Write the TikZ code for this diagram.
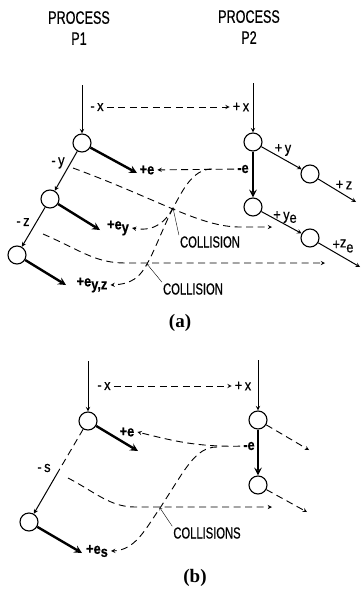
\documentclass[tikz,border=0pt]{standalone}
\usepackage{fontspec}
\setmainfont{Liberation Serif}
\newfontfamily\lettering[FakeStretch=0.7,FakeBold=0.6]{Liberation Sans}
\newfontfamily\tagfont[FakeStretch=0.85,FakeBold=0.5]{Liberation Sans}
\usetikzlibrary{arrows}
\begin{document}
\begin{tikzpicture}[x=1pt,y=-1pt]
\tikzstyle{state}=[draw,circle,minimum size=18pt,inner sep=0pt,line width=1.1pt]
\tikzstyle{msg}=[->,>=stealth,dash pattern=on 7pt off 4.5pt,line width=0.9pt]
\tikzstyle{flow}=[->,>=stealth,line width=1pt]
\tikzstyle{heavy}=[->,>=stealth,line width=2.4pt]
\tikzstyle{tag}=[inner sep=3pt,font=\tagfont\fontsize{15}{15}\selectfont]
\tikzstyle{head}=[align=center,font=\lettering\fontsize{18}{21}\selectfont]
\tikzstyle{note}=[inner sep=1pt,font=\lettering\fontsize{16}{16}\selectfont]
\tikzstyle{sub}=[font=\bfseries\fontsize{19}{19}\selectfont]

\useasboundingbox (0,0) rectangle (361,589);

% headings
\node[head] (h1) at (79,28) {PROCESS\\P1};
\node[head] (h2) at (249,27) {PROCESS\\P2};

% (a): states of P1 and P2
\foreach \n/\x/\y in {A1/82/143,A2/50/199,A3/17/255,B1/253/142,B2/253/207,B3/310/174,B4/310/238}
  \node[state] (\n) at (\x,\y) {};

\coordinate (top1) at (82,85);
\coordinate (top2) at (253,83);
\coordinate (outB3) at (356,202);
\coordinate (outB4) at (360,267);
\draw[flow] (top1) -- (A1);
\draw[flow] (top2) -- (B1);
\draw[flow] (A1) -- (A2);
\draw[flow] (A2) -- (A3);
\draw[flow] (B1) -- (B3);
\draw[flow] (B3) -- (outB3);
\draw[flow] (B2) -- (B4);
\draw[flow] (B4) -- (outB4);
\draw[heavy] (B1) -- (B2);

\coordinate (tA1) at (137,173);
\coordinate (tA2) at (100,230);
\coordinate (tA3) at (66,285);
\draw[heavy] (A1) -- (tA1);
\draw[heavy] (A2) -- (tA2);
\draw[heavy] (A3) -- (tA3);

\node[tag] (mx1) at (97,107) {-\,x};
\node[tag] (px1) at (241,107) {+\,x};
\node[tag] (my1) at (58,163) {-\,y};
\node[tag] (mz1) at (23,222) {-\,z};
\node[tag] (py1) at (283,150) {+\,y};
\node[tag] (pz1) at (344,185) {+\,z};
\node[tag] (pye) at (285,217) {+\,y\raisebox{-3pt}{e}};
\node[tag] (pze) at (343,246) {+\raisebox{2pt}{z}\raisebox{-3pt}{e}};
\node[tag] (e1) at (147,170) {\bfseries +e};
\node[tag] (me1) at (243,169) {\bfseries -e};
\node[tag] (ey) at (118,228) {\bfseries +e\raisebox{-3pt}{y}};
\node[tag] (eyz) at (92,285) {\bfseries +e\raisebox{-3pt}{y,z}};

\draw[msg] (mx1) -- (px1);
\draw[msg] (me1) -- (e1);

% the replies crossing the later messages
\coordinate (fork1) at (212,169);
\coordinate (X1) at (173,208);
\coordinate (X2) at (147,264);
\draw[msg] (fork1) .. controls (192,169) and (182,192) .. (X1)
  .. controls (166,221) and (155,232) .. (ey.east);
\draw[msg] (X1) .. controls (162,230) and (155,250) .. (X2)
  .. controls (140,277) and (132,284) .. (eyz.east);

\coordinate (sy) at (73,168);
\coordinate (endy) at (272,227);
\draw[msg] (sy) .. controls (160,200) and (200,227) .. (240,227) -- (endy);
\coordinate (sz) at (43,234);
\coordinate (endz) at (325,263);
\draw[msg] (sz) .. controls (80,250) and (95,263) .. (125,263) -- (endz);

\node[note] (col1) at (210,242) {COLLISION};
\node[note] (col2) at (193,289) {COLLISION};
\draw[->] (col1.north west) -- (X1);
\draw[->] (col2.north west) -- (X2);

\node[sub] (ta) at (180,323) {(a)};

% (b): one reply for both messages
\foreach \n/\x/\y in {C1/88/421,C2/29/522,D1/258/420,D2/258/485}
  \node[state] (\n) at (\x,\y) {};

\coordinate (top3) at (88,361);
\coordinate (top4) at (258,360);
\draw[flow] (top3) -- (C1);
\draw[flow] (top4) -- (D1);
\draw[heavy] (D1) -- (D2);

\node[tag] (mx2) at (104,386) {-\,x};
\node[tag] (px2) at (243,386) {+\,x};
\draw[msg] (mx2) -- (px2);

\coordinate (tC1) at (138,451);
\coordinate (tC2) at (82,553);
\draw[heavy] (C1) -- (tC1);
\draw[heavy] (C2) -- (tC2);

\node[tag] (e2) at (127,432) {\bfseries +e};
\node[tag] (me2) at (249,446) {\bfseries -e};
\node[tag] (es) at (97,551) {\bfseries +e\raisebox{-3pt}{s}};
\node[tag] (ms2) at (44,468) {-\,s};

\coordinate (ms) at (58,472);
\draw[dash pattern=on 7pt off 4.5pt,line width=0.9pt] (C1) -- (ms);
\draw[flow] (ms) -- (C2);

\draw[msg] (me2) .. controls (195,447) and (170,440) .. (e2.east);
\coordinate (fork2) at (217,447);
\coordinate (X3) at (160,508);
\draw[msg] (fork2) .. controls (195,447) and (185,470) .. (X3)
  .. controls (145,530) and (135,550) .. (es.east);

\coordinate (ss) at (68,478);
\coordinate (ends) at (272,507);
\draw[msg] (ss) .. controls (95,492) and (110,507) .. (135,507) -- (ends);

\coordinate (outD1) at (309,450);
\coordinate (outD2) at (307,512);
\draw[msg] (D1) -- (outD1);
\draw[msg] (D2) -- (outD2);

\node[note] (col3) at (207,533) {COLLISIONS};
\draw[->] (col3.north west) -- (X3);

\node[sub] (tb) at (195,578) {(b)};
\end{tikzpicture}
\end{document}
